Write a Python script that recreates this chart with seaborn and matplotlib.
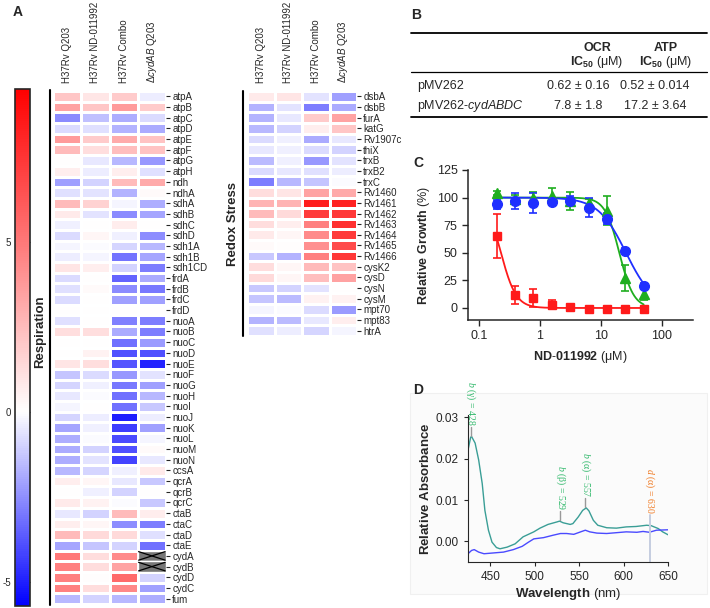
import numpy as np
import pandas as pd
import matplotlib
matplotlib.use("Agg")
import matplotlib.pyplot as plt
import seaborn as sns
from matplotlib.colors import LinearSegmentedColormap, Normalize
from matplotlib.cm import ScalarMappable
from matplotlib.lines import Line2D
from matplotlib.patches import Rectangle
from matplotlib.ticker import FixedLocator, NullLocator, FixedFormatter

# ---------------- data ----------------
conditions = ["H37Rv Q203", "H37Rv ND-011992", "H37Rv Combo", r"Δ$\mathit{cydAB}$ Q203"]

resp_genes = ["atpA", "atpB", "atpC", "atpD", "atpE", "atpF", "atpG", "atpH", "ndh", "ndhA",
              "sdhA", "sdhB", "sdhC", "sdhD", "sdh1A", "sdh1B", "sdh1CD", "frdA", "frdB", "frdC",
              "frdD", "nuoA", "nuoB", "nuoC", "nuoD", "nuoE", "nuoF", "nuoG", "nuoH", "nuoI",
              "nuoJ", "nuoK", "nuoL", "nuoM", "nuoN", "ccsA", "qcrA", "qcrB", "qcrC", "ctaB",
              "ctaC", "ctaD", "ctaE", "cydA", "cydB", "cydD", "cydC", "fum"]
resp_q203 = [2.1, 3.5, -2.6, -0.8, 3.7, 2.5, 0.0, 0.6, -2.1, -0.7,
             2.5, 0.8, -0.3, -0.8, -0.2, -0.4, 1.0, -0.8, -0.7, -0.8,
             0.0, -0.7, 1.2, 0.0, 0.0, 1.0, -1.3, -0.9, -0.5, -0.2,
             -0.9, -2.0, -1.8, -1.9, -1.8, -1.6, 0.6, 0.0, 0.8, -0.5,
             0.6, 2.5, -2.0, 5.0, 4.7, 4.7, 4.7, -1.6]
resp_nd = [0.9, 2.1, -1.4, -0.7, 1.9, 1.2, -0.5, -0.4, -1.0, -0.6,
           1.7, -0.6, 0.0, 0.3, -0.1, -0.2, 0.6, 0.0, 0.2, 0.0,
           0.0, 0.0, 1.2, 0.0, 0.5, 1.2, -0.8, -0.3, -0.1, 0.0,
           -0.4, -0.3, -0.1, -1.0, -0.6, -0.9, 0.3, -0.3, 0.5, -1.0,
           0.3, 1.4, -1.3, 1.3, 1.3, 0.1, 1.3, -1.0]
resp_combo = [1.9, 3.7, -1.8, -1.7, 3.1, 2.4, -1.6, 0.6, 2.5, -1.7,
              -0.2, -2.6, 0.7, -0.3, -0.9, -3.1, -1.0, -3.5, -2.6, -2.1,
              0.0, -2.8, -1.9, -3.2, -3.9, -3.8, -2.3, -3.0, -3.2, -3.2,
              -5.0, -4.3, -4.0, -3.9, -4.2, -0.3, -0.5, -1.0, -0.1, 2.5,
              -2.5, 1.4, -1.0, 4.3, 3.4, 5.5, 4.4, -1.6]
resp_dcyd = [-0.4, 1.9, -0.8, -1.9, 2.2, 2.2, -2.3, -0.7, 3.2, 0.2,
             -1.8, -2.0, 0.0, -2.5, -1.6, -2.0, -2.9, -1.9, -3.0, -2.1,
             0.0, -2.9, -2.9, -2.2, -3.9, -4.9, -0.6, -2.1, -1.6, -1.2,
             -0.4, -2.1, -0.2, 0.2, -0.5, 0.8, -1.2, 0.0, -1.2, 0.7,
             -2.9, -0.7, -3.2, np.nan, np.nan, -1.0, -2.1, -1.8]

redox_genes = ["dsbA", "dsbB", "furA", "katG", "Rv1907c", "thiX", "trxB", "trxB2", "trxC",
               "Rv1460", "Rv1461", "Rv1462", "Rv1463", "Rv1464", "Rv1465", "Rv1466",
               "cysK2", "cysD", "cysN", "cysM", "mpt70", "mpt83", "htrA"]
redox_q203 = [0.8, -1.7, -1.7, -1.6, -0.8, -0.5, -1.5, -0.8, -2.9, 1.3, 2.8, 2.5, 1.3, 0.8, 0.2,
              -1.2, 1.3, 1.4, -1.2, -1.3, -0.2, -1.7, -0.7]
redox_nd = [1.0, -0.6, -0.5, -1.0, -0.3, -0.3, -0.3, -0.5, -1.6, 1.0, 2.8, 1.4, 0.6, 0.3, 0.1,
            -1.7, 0.3, 0.3, -1.0, -1.5, -0.1, -1.5, -0.4]
redox_combo = [-0.6, -2.9, 1.9, 0.6, -1.9, -0.8, -2.3, -0.7, -1.3, 3.4, 8.4, 7.3, 4.7, 4.3, 4.1,
               4.7, 2.6, 2.4, -0.6, 0.5, -0.8, -0.5, -0.9]
redox_dcyd = [-2.1, -1.9, 3.4, 2.1, -0.5, -1.0, -0.6, -0.4, -0.1, 3.2, 8.2, 7.4, 7.7, 7.3, 6.7,
              7.4, 2.2, 3.5, 0.0, 0.5, -2.2, 0.6, -0.2]

cbar_min, cbar_max = -5.7, 9.5
cbar_ticks = [-5, 0, 5]

# Panel B table
table_cols = ["OCR", "ATP"]
table_rows = ["pMV262", r"pMV262-$\mathit{cydABDC}$"]
ocr_vals = ["0.62 ± 0.16", "7.8 ± 1.8"]
atp_vals = ["0.52 ± 0.014", "17.2 ± 3.64"]

# Panel C
conc = [0.195, 0.39, 0.78, 1.56, 3.125, 6.25, 12.5, 25, 50]
red_growth = [65, 12, 9, 3, 0.5, -0.5, -0.5, -0.5, -0.5]
red_err = [20, 8, 8, 4, 1.5, 1, 1, 1, 1]
green_growth = [104, 99, 100, 101, 97, 95, 88, 27, 13]
green_err = [2, 3, 5, 8, 8, 4, 13, 12, 6]
blue_growth = [94, 97, 95, 96, 97, 91, 81, 52, 20]
blue_err = [4, 7, 9, 2, 4, 9, 5, 2, 3]
c_xticks = [0.1, 1, 10, 100]
c_xticklabels = ["0.1", "1", "10", "100"]
c_yticks = [0, 25, 50, 75, 100, 125]

# Panel D
teal_wl = [425, 428, 429, 433, 437, 441, 444, 448, 452, 457, 461, 469, 478, 487, 499, 506, 515,
           525, 528, 532, 540, 543, 549, 554, 558, 561, 566, 571, 581, 592, 603, 614, 626, 631,
           639, 644, 650]
teal_abs = [0.0221, 0.0252, 0.0254, 0.0238, 0.0197, 0.0140, 0.0075, 0.0027, -0.0002, -0.0015,
            -0.0018, -0.0014, -0.0006, 0.0011, 0.0023, 0.0032, 0.0041, 0.0047, 0.0049, 0.0045,
            0.0041, 0.0043, 0.0059, 0.0075, 0.0081, 0.0074, 0.0051, 0.0039, 0.0033, 0.0032,
            0.0035, 0.0036, 0.0039, 0.0038, 0.0031, 0.0023, 0.0016]
blue_wl = [425, 429, 432, 437, 443, 454, 465, 476, 486, 493, 499, 510, 521, 529, 536, 544, 553,
           557, 562, 570, 581, 592, 603, 615, 622, 629, 637, 650]
blue_abs = [-0.0030, -0.0022, -0.0020, -0.0026, -0.0030, -0.0028, -0.0026, -0.0020, -0.0012,
            -0.0002, 0.0006, 0.0009, 0.0015, 0.0019, 0.0019, 0.0017, 0.0024, 0.0027, 0.0023,
            0.0020, 0.0019, 0.0021, 0.0023, 0.0022, 0.0024, 0.0022, 0.0027, 0.0028]
peak_wl = [428, 529, 557, 630]
peak_prefix = ["b", "b", "b", "d"]
peak_band = ["(γ)", "(β)", "(α)", "(α)"]
peak_colors = ["#2fb86a", "#2fb86a", "#2fb86a", "#f07a22"]

# ---------------- style ----------------
sns.set_style("ticks")
plt.rcParams["font.family"] = ["Liberation Sans", "DejaVu Sans"]
plt.rcParams["mathtext.fontset"] = "custom"
plt.rcParams["mathtext.rm"] = "Liberation Sans"
plt.rcParams["mathtext.it"] = "Liberation Sans:italic"
plt.rcParams["mathtext.bf"] = "Liberation Sans:bold"
plt.rcParams["mathtext.sf"] = "Liberation Serif:italic"
plt.rcParams["axes.unicode_minus"] = False

W, H = 710, 608
fig = plt.figure(figsize=(W / 100, H / 100), dpi=100)


def rect(x0, y0, x1, y1):
    return [x0 / W, 1 - y1 / H, (x1 - x0) / W, (y1 - y0) / H]


def fx(px):
    return px / W


def fy(py):
    return 1 - py / H


cmap = LinearSegmentedColormap.from_list(
    "bwr_shift", [(0, "#0000ff"), (-cbar_min / (cbar_max - cbar_min), "#ffffff"), (1, "#ff0000")])
norm = Normalize(vmin=cbar_min, vmax=cbar_max)


def draw_heat(ax, genes, cols):
    df = pd.DataFrame({c: v for c, v in zip(conditions, cols)}, index=genes)
    sns.heatmap(df, ax=ax, cmap=cmap, vmin=cbar_min, vmax=cbar_max, cbar=False,
                linewidths=1.0, linecolor="white", xticklabels=conditions, yticklabels=genes)
    vals = df.values
    for i, j in zip(*np.where(np.isnan(vals))):
        ax.add_patch(Rectangle((j, i), 1, 1, facecolor="#777777", edgecolor="white", lw=1.0))
        ax.plot([j + 0.03, j + 0.97], [i + 0.1, i + 0.9], color="black", lw=0.9)
        ax.plot([j + 0.03, j + 0.97], [i + 0.9, i + 0.1], color="black", lw=0.9)
    ax.yaxis.tick_right()
    ax.xaxis.tick_top()
    ax.tick_params(axis="y", rotation=0, length=3, width=0.8, pad=1.5, labelsize=7, right=True, left=False)
    ax.tick_params(axis="x", rotation=90, length=0, pad=6, labelsize=7)
    for t in ax.get_xticklabels():
        t.set_va("bottom")
    ax.set_xlabel("")
    ax.set_ylabel("")


# Panel A heatmaps
ax_r = fig.add_axes(rect(53, 91, 166, 604))
draw_heat(ax_r, resp_genes, [resp_q203, resp_nd, resp_combo, resp_dcyd])
ax_x = fig.add_axes(rect(247, 91, 357, 336))
draw_heat(ax_x, redox_genes, [redox_q203, redox_nd, redox_combo, redox_dcyd])

# colorbar
cax = fig.add_axes(rect(15, 89, 30, 606))
cb = fig.colorbar(ScalarMappable(norm=norm, cmap=cmap), cax=cax, ticks=cbar_ticks)
cb.outline.set_linewidth(1.2)
cax.yaxis.set_ticks_position("both")
cax.tick_params(direction="in", length=3, width=0.8, labelleft=True, labelright=False,
                labelsize=7, pad=3)
cax.set_yticklabels([str(t) for t in cbar_ticks])

# group brackets and labels
fig.add_artist(Line2D([fx(50), fx(50)], [fy(90), fy(605)], color="black", lw=1.5))
fig.add_artist(Line2D([fx(243), fx(243)], [fy(91), fy(336)], color="black", lw=1.5))
fig.text(fx(40), fy(332), "Respiration", rotation=90, ha="center", va="center",
         fontsize=9.5, fontweight="bold")
fig.text(fx(233), fy(224), "Redox Stress", rotation=90, ha="center", va="center",
         fontsize=9.5, fontweight="bold")

# Panel letters
for lab, (px, py) in zip("ABCD", [(18, 12), (416, 15), (418, 163), (418, 390)]):
    fig.text(fx(px), fy(py), lab, ha="center", va="center", fontsize=10, fontweight="bold")

# ---------------- Panel B: table ----------------
for py in (33, 117):
    fig.add_artist(Line2D([fx(411), fx(707)], [fy(py), fy(py)], color="black", lw=1.3))
fig.add_artist(Line2D([fx(411), fx(707)], [fy(72), fy(72)], color="black", lw=0.9))
for name, cx in zip(table_cols, [597, 666]):
    fig.text(fx(cx), fy(48), name, ha="center", va="center", fontsize=9, fontweight="bold")
    fig.text(fx(cx), fy(62), r"$\mathbf{IC}_{\mathbf{50}}$ (μM)", ha="center", va="center", fontsize=9)
for r, (name, o, a) in enumerate(zip(table_rows, ocr_vals, atp_vals)):
    py = 86 + 20 * r
    fig.text(fx(417), fy(py), name, ha="left", va="center", fontsize=9)
    fig.text(fx(578), fy(py), o, ha="center", va="center", fontsize=9)
    fig.text(fx(655), fy(py), a, ha="center", va="center", fontsize=9)

# ---------------- Panel C ----------------
axc = fig.add_axes(rect(468, 170, 693, 320))


def hill_fit(x, y):
    lx = np.log10(np.asarray(x, float))
    y = np.asarray(y, float)
    logic = np.linspace(-2, 3, 501)
    hills = np.linspace(0.5, 8, 151)
    L, Hh = np.meshgrid(logic, hills, indexing="ij")
    pred = 100.0 / (1 + 10 ** (Hh[..., None] * (lx[None, None, :] - L[..., None])))
    sse = ((pred - y) ** 2).sum(-1)
    idx = np.unravel_index(sse.argmin(), sse.shape)
    return L[idx], Hh[idx]


xs = np.logspace(np.log10(conc[0]), np.log10(conc[-1]), 300)
series = [(red_growth, red_err, "#ff1a1a", "s", 6.0),
          (green_growth, green_err, "#1fae1f", "^", 7.0),
          (blue_growth, blue_err, "#1f2fff", "o", 7.0)]
for vals, errs, col, mk, ms in series:
    lic, hh = hill_fit(conc, vals)
    ys = 100.0 / (1 + 10 ** (hh * (np.log10(xs) - lic)))
    sns.lineplot(x=xs, y=ys, ax=axc, color=col, lw=1.3)
    axc.errorbar(conc, vals, yerr=errs, fmt=mk, color=col, ms=ms, capsize=3,
                 elinewidth=1.2, capthick=1.2, mec=col)
axc.set_xscale("log")
axc.set_xlim(0.066, 322)
axc.set_ylim(-10.9, 125)
axc.xaxis.set_major_locator(FixedLocator(c_xticks))
axc.xaxis.set_major_formatter(FixedFormatter(c_xticklabels))
axc.xaxis.set_minor_locator(NullLocator())
axc.set_yticks(c_yticks)
axc.tick_params(labelsize=9, length=4, width=1, direction="out")
for s in ("top", "right"):
    axc.spines[s].set_visible(False)
for s in ("left", "bottom"):
    axc.spines[s].set_linewidth(1.1)
axc.set_xlabel(r"$\mathbf{ND}$-$\mathbf{011992}$ (μM)", fontsize=9, labelpad=5)
axc.set_ylabel(r"$\mathbf{Relative\ Growth}$ (%)", fontsize=9, labelpad=3)

# ---------------- Panel D ----------------
fig.add_artist(Rectangle((fx(410), fy(594)), fx(707) - fx(410), fy(393) - fy(594),
                         facecolor="#fbfbfb", edgecolor="#f0f0f0", lw=0.8, zorder=0))
axd = fig.add_axes(rect(468, 415, 668, 562))
axd.set_facecolor("none")
sns.lineplot(x=teal_wl, y=teal_abs, ax=axd, color="#3a9e96", lw=1.0)
sns.lineplot(x=blue_wl, y=blue_abs, ax=axd, color="#4a4aff", lw=1.0)
axd.set_xlim(425, 650)
axd.set_ylim(-0.005, 0.0306)
axd.set_xticks([450, 500, 550, 600, 650])
axd.set_yticks([0.0, 0.01, 0.02, 0.03])
axd.set_yticklabels(["0.00", "0.01", "0.02", "0.03"])
axd.tick_params(labelsize=8.5, length=3, width=0.8)
for s in ("top", "right"):
    axd.spines[s].set_visible(False)
axd.set_xlabel(r"$\mathbf{Wavelength}$ (nm)", fontsize=9.5, labelpad=2)
axd.set_ylabel(r"$\mathbf{Relative\ Absorbance}$", fontsize=9.5, labelpad=3)
for wl, pre, band, col in zip(peak_wl, peak_prefix, peak_band, peak_colors):
    yc = float(np.interp(wl, teal_wl, teal_abs))
    top = yc + 0.0025
    if pre == "d":
        axd.plot([wl, wl], [-0.005, top], color="#c5cde0", lw=1.4, clip_on=False)
    else:
        axd.plot([wl, wl], [yc + 0.0004, top], color="#999999", lw=1.0, clip_on=False)
    axd.text(wl, top + 0.0003, rf"$\mathsf{{{pre}}}$ {band} = {wl}", rotation=270,
             ha="center", va="bottom", color=col, fontsize=7, family="Liberation Serif",
             clip_on=False)

fig.savefig("out.png", dpi=100)
